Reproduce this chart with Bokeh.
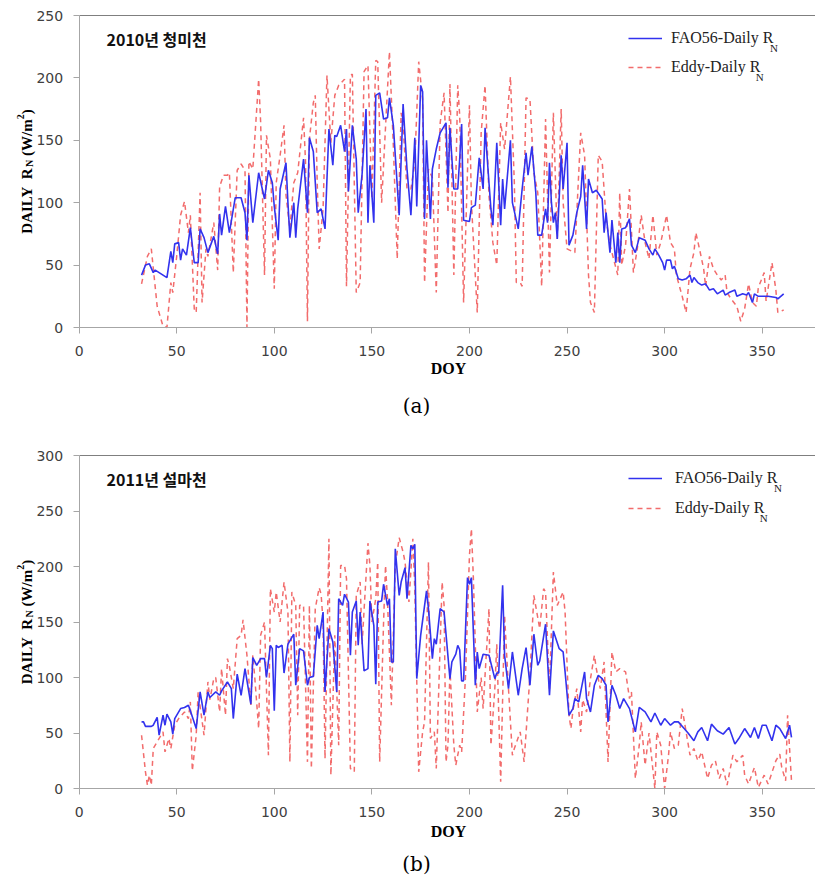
import math
from bokeh.plotting import figure
from bokeh.models import Range1d, FixedTicker, Label, Legend, LegendItem, LinearAxis
from bokeh.layouts import column
from bokeh.embed import file_html
from bokeh.resources import INLINE

# ---------------- data ----------------
x_ticks = [0, 50, 100, 150, 200, 250, 300, 350]
y_ticks_a = [0, 50, 100, 150, 200, 250]
y_ticks_b = [0, 50, 100, 150, 200, 250, 300]

title_a = "2010년 청미천"
title_b = "2011년 설마천"
label_fao = "FAO56-Daily R"
label_eddy = "Eddy-Daily R"

doy_fao_2010 = [32,34,36,38,39,45,47,48,49,51, 52,53,55,57,59,61,62,64,66,69,
                 71,72,73,75,77,80,83,85,86,87, 89,92,95,97,99,100,102,103,106,107,
                 108,110,111,112,115,117,118,120,122,124, 126,128,130,131,132,134,136,137,138,140,
                 142,143,145,147,148,149,151,152,154,156, 158,159,161,164,166,168,170,172,173,175,
                 176,177,178,180,181,183,185,188,189,190, 192,194,195,196,197,200,201,203,205,207,
                 208,210,211,212,214,216,217,218,221,222, 225,227,229,230,232,234,235,237,239,240,
                 241,242,243,244,245,247,248,250,251,253, 255,257,258,260,261,263,265,268,269,270,
                 272,273,275,276,277,278,280,282,283,285, 287,290,292,294,295,297,299,300,301,303,
                 304,305,307,309,311,313,314,315,317,319, 321,323,325,327,330,331,333,336,337,340,
                 342,343,345,346,348,350,353,357,358,361]
rn_fao_2010 = [42,50,51,44,46,40,61,52,67,68, 54,63,58,80,52,52,79,72,60,73,
               59,91,74,97,76,104,104,92,70,122, 84,124,103,126,116,97,70,111,132,100,
               72,100,72,95,135,92,152,141,92,95, 79,159,130,154,153,162,141,159,109,162,
               135,92,123,175,84,130,84,186,188,167, 168,184,162,90,179,127,90,152,97,194,
               189,87,150,87,127,143,156,164,112,160, 111,111,135,163,86,85,96,98,136,111,
               160,116,95,82,148,82,119,95,150,100, 79,111,140,122,145,108,74,74,95,84,
               132,100,84,92,71,138,111,148,66,74, 92,105,130,79,119,108,110,103,76,92,
               60,86,52,76,52,79,80,87,66,60, 72,70,63,58,63,58,52,46,54,54,
               47,49,39,38,39,42,36,40,36,34, 35,30,31,27,30,26,28,30,25,27,
               26,28,20,27,25,25,25,24,23,27]

doy_eddy_2010 = [32,35,37,40,43,45,47,48,50,52, 54,56,57,59,60,62,63,65,66,69,
                 71,72,74,76,77,79,81,83,85,86, 87,89,92,93,95,96,98,100,101,103,
                 105,106,108,110,112,115,116,117,118,120, 121,122,123,125,127,129,131,133,136,137,
                 139,140,142,144,146,148,150,152,153,155, 159,161,163,165,166,168,170,172,174,176,
                 177,179,181,183,185,187,189,190,192,194, 195,197,200,201,204,206,208,210,212,214,
                 216,218,221,223,224,226,227,229,231,233, 235,237,239,241,243,245,247,248,250,254,
                 257,259,261,262,264,266,268,270,272,276, 277,278,280,282,284,286,288,290,292,294,
                 296,298,301,303,305,306,309,311,313,315, 316,318,320,321,323,325,327,329,331,332,
                 334,337,339,341,343,345,347,348,351,352, 355,357,358,361]
rn_eddy_2010 = [35,57,63,17,1,0,36,28,57,90, 101,76,90,15,12,108,20,63,57,84,
                46,113,122,122,124,44,126,131,126,0, 133,127,199,165,42,154,135,31,116,138,
                162,106,79,116,124,168,133,5,151,180, 186,116,63,95,202,148,186,194,199,33,
                202,203,28,36,205,210,103,214,213,100, 221,146,55,172,162,111,111,132,213,183,
                36,127,120,28,164,188,92,195,42,194, 170,20,178,100,12,156,194,106,68,50,
                164,143,201,116,36,36,33,184,183,124, 108,33,167,44,172,71,175,100,63,60,
                156,138,42,20,12,138,133,87,66,42, 108,50,66,111,44,63,90,68,55,90,
                58,68,90,68,63,42,25,12,47,60, 76,62,47,33,57,47,42,38,42,28,
                23,17,5,15,35,20,17,32,44,21, 52,30,12,14]

doy_fao_2011 = [32,33,34,37,38,40,41,43,44,45, 47,48,49,52,54,56,57,60,62,64,
                66,67,70,72,73,76,78,79,81,83, 85,88,89,91,93,95,96,98,99,100,
                101,102,104,105,107,110,111,113,115,117, 118,120,122,123,125,126,128,130,132,133,
                135,136,138,139,140,142,143,144,146,148, 149,151,152,153,155,156,158,159,160,161,
                162,164,165,167,168,170,171,172,173,175, 178,179,181,182,183,185,187,190,191,193,
                194,195,196,197,199,200,201,203,204,205, 207,210,213,214,215,217,218,220,222,223,
                225,227,229,231,233,235,236,239,241,243, 246,248,249,251,253,254,256,259,260,262,
                264,266,268,270,271,273,275,277,279,282, 285,287,290,293,295,298,300,303,305,307,
                310,312,315,317,319,322,324,327,330,333, 336,338,341,344,346,348,350,352,355,357,
                359,362,364,365]
rn_fao_2011 = [60,60,56,56,57,64,48,66,57,67, 60,49,63,72,73,75,70,54,87,66,
               87,82,87,84,88,96,90,63,103,84, 108,76,118,111,117,117,100,129,126,70,
               129,127,129,104,130,139,93,126,124,93, 100,101,147,135,159,87,144,132,87,171,
               165,175,168,120,159,169,129,159,106,108, 169,147,94,168,169,184,165,171,114,114,
               216,174,186,199,171,219,216,220,99,138, 178,162,117,135,130,162,159,99,114,121,
               129,125,97,97,190,184,190,93,123,108, 121,120,99,104,104,183,120,90,123,110,
               84,108,127,93,139,111,115,148,84,142, 126,123,105,66,72,81,78,105,81,69,
               93,102,99,93,60,93,84,72,81,72, 51,73,69,60,68,57,63,57,60,60,
               54,50,43,51,55,43,58,52,49,55, 40,45,54,46,55,45,57,57,43,57,
               54,45,57,46]

doy_eddy_2011 = [32,34,35,36,37,38,40,43,44,46, 47,49,51,54,56,57,58,60,61,64,
                 66,67,69,70,72,73,75,76,77,79, 81,83,84,86,88,89,90,92,93,95,
                 97,98,100,101,103,105,107,108,109,111, 112,113,115,117,118,119,121,123,124,125,
                 126,128,129,131,133,134,136,137,139,141, 142,144,145,148,149,150,152,153,154,156,
                 157,158,160,162,164,166,167,169,171,172, 174,176,177,179,180,182,183,186,187,188,
                 189,190,192,193,195,196,198,200,201,202, 204,206,207,210,211,213,214,216,218,220,
                 222,223,226,228,231,233,236,238,239,241, 243,245,248,249,251,252,253,255,257,258,
                 260,262,264,265,267,269,271,273,275,277, 280,282,283,285,287,288,290,292,295,296,
                 298,300,302,303,305,307,309,311,313,315, 317,319,322,324,326,328,330,332,335,337,
                 340,341,343,346,348,351,353,357,359,360, 362,363,365]
rn_eddy_2011 = [48,15,3,12,3,36,42,51,33,45, 36,57,63,69,63,78,16,48,87,48,
                96,80,99,100,69,108,66,117,110,90, 135,138,152,120,75,120,100,54,138,150,
                30,180,159,177,150,186,159,24,177,165, 66,165,165,24,165,18,162,181,175,150,
                27,225,12,138,39,201,201,189,18,15, 174,186,130,221,201,150,171,204,24,150,
                201,170,75,201,226,213,204,168,225,180, 15,51,60,204,45,51,18,186,165,24,
                39,108,39,21,39,33,102,210,234,190, 69,100,72,162,39,90,130,6,156,90,
                30,36,51,24,102,174,144,180,177,90, 195,165,177,159,66,54,70,90,51,80,
                69,99,120,108,90,114,24,123,105,108, 105,81,87,9,39,60,21,50,0,51,
                39,0,30,51,36,39,72,51,30,36, 25,33,9,21,25,9,18,3,30,24,
                30,12,4,19,1,12,4,25,31,19, 7,66,7]

# ---------------- styling ----------------
BLUE = "#3232ee"
RED = "#f26c6c"
AXIS = "#a6a6a6"
SERIF = "Liberation Serif"
NBSP = "\u00a0"
W = 815
X_MAX = 377.3
AX_LEFT = 78.6  # pixel of x = 0


def ylabel_parts(p, x_center, y_mid):
    big, small = 15, 10
    w1 = (3.222 + 0.5 + 0.722) * big
    w2 = 0.722 * small
    w3 = (0.25 + 0.333 + 1.0 + 0.278 + 0.833) * big
    w4 = 0.5 * small
    w5 = 0.333 * big
    total = w1 + w2 + w3 + w4 + w5
    y0 = y_mid - total / 2
    xb = x_center + 5
    parts = [("DAILY" + NBSP + NBSP + "R", big, xb, y0),
             ("N", small, xb + 3, y0 + w1),
             (NBSP + "(W/m", big, xb, y0 + w1 + w2),
             ("2", small, xb - 6, y0 + w1 + w2 + w3),
             (")", big, xb, y0 + w1 + w2 + w3 + w4)]
    for txt, sz, xx, yy in parts:
        p.add_layout(Label(x=xx, y=yy, x_units="screen", y_units="screen", text=txt,
                           angle=math.pi / 2, text_align="left", text_baseline="alphabetic",
                           text_font=SERIF, text_font_style="bold",
                           text_font_size=f"{sz}px", text_color="#000000"))


def panel(doy_f, rn_f, doy_e, rn_e, y_ticks, title, caption, H, top_px, bottom_px,
          standoff, spacing, doy_px, cap_px):
    """top_px / bottom_px: canvas pixel rows (from top) of y=max and y=0."""
    ymax = y_ticks[-1]
    sy = (bottom_px - top_px) / ymax
    sx = (W - AX_LEFT) / X_MAX
    p = figure(width=W, height=H, output_backend="svg", toolbar_location=None,
               x_range=Range1d(-AX_LEFT / sx, X_MAX),
               y_range=Range1d(-(H - bottom_px) / sy, ymax + top_px / sy),
               x_axis_type=None, y_axis_type=None,
               min_border=0)
    p.grid.visible = False
    p.outline_line_color = None
    p.background_fill_color = "white"
    p.border_fill_color = "white"

    xa = LinearAxis(fixed_location=0, bounds=(0, X_MAX), ticker=FixedTicker(ticks=x_ticks))
    ya = LinearAxis(fixed_location=0, bounds=(0, ymax), ticker=FixedTicker(ticks=y_ticks))
    for ax in (xa, ya):
        ax.axis_line_color = AXIS
        ax.major_tick_line_color = AXIS
        ax.minor_tick_line_color = None
        ax.major_tick_in = 0
        ax.major_tick_out = 6
        ax.major_label_text_font = "DejaVu Sans"
        ax.major_label_text_font_size = "14px"
        ax.major_label_text_color = "#404040"
    xa.major_label_standoff = 12
    ya.major_label_standoff = 10
    p.add_layout(xa, "below")
    p.add_layout(ya, "left")
    ta = LinearAxis(fixed_location=ymax, bounds=(0, X_MAX), ticker=FixedTicker(ticks=[]),
                    axis_line_color="#7f7f7f", major_tick_line_color=None,
                    minor_tick_line_color=None, major_label_text_font_size="0px")
    p.add_layout(ta, "above")

    r_e = p.line(doy_e, rn_e, line_color=RED, line_width=1.5, line_dash="5 4")
    r_f = p.line(doy_f, rn_f, line_color=BLUE, line_width=1.6)

    c1 = top_px + 23           # legend row centres (from canvas top)
    c2 = c1 + 20 + spacing
    leg_bottom = H - (c1 - 10) - (20 + spacing + 20)
    legend = Legend(items=[LegendItem(label=label_fao, renderers=[r_f]),
                           LegendItem(label=label_eddy, renderers=[r_e])],
                    location=(628, leg_bottom), orientation="vertical",
                    padding=0, margin=0, spacing=spacing,
                    glyph_width=34, glyph_height=20, label_height=20,
                    label_standoff=standoff, border_line_color=None,
                    background_fill_alpha=0,
                    label_text_font=SERIF, label_text_font_size="16px",
                    label_text_color="#222222")
    p.add_layout(legend)
    tx = 628 + 34 + standoff
    for wtxt, cy in ((6.472 * 16 - 5, c1), (5.583 * 16 - 5, c2)):
        p.add_layout(Label(x=tx + wtxt, y=H - cy - 9, x_units="screen", y_units="screen",
                           text="N", text_font=SERIF, text_font_size="11px",
                           text_baseline="alphabetic", text_align="left",
                           text_color="#222222"))

    p.add_layout(Label(x=106, y=H - c1, x_units="screen", y_units="screen", text=title,
                       text_font="Noto Sans CJK KR", text_font_style="bold",
                       text_font_size="16px", text_baseline="middle", text_color="#111111"))
    ylabel_parts(p, 21, H - (top_px + bottom_px) / 2)
    p.add_layout(Label(x=448, y=H - doy_px, x_units="screen", y_units="screen", text="DOY",
                       text_font=SERIF, text_font_style="bold", text_font_size="16px",
                       text_align="center", text_baseline="middle", text_color="#000000"))
    p.add_layout(Label(x=416, y=H - cap_px, x_units="screen", y_units="screen", text=caption,
                       text_font="DejaVu Serif", text_font_size="20px",
                       text_align="center", text_baseline="middle", text_color="#000000"))
    return p


p1 = panel(doy_fao_2010, rn_fao_2010, doy_eddy_2010, rn_eddy_2010, y_ticks_a, title_a, "(a)",
           430, 15, 327, 9, 9, 368, 405)
p2 = panel(doy_fao_2011, rn_fao_2011, doy_eddy_2011, rn_eddy_2011, y_ticks_b, title_b, "(b)",
           446, 25, 358, 13, 10, 401, 433)

layout = column(p1, p2, spacing=0)
open("out.html", "w").write(file_html(layout, INLINE))
